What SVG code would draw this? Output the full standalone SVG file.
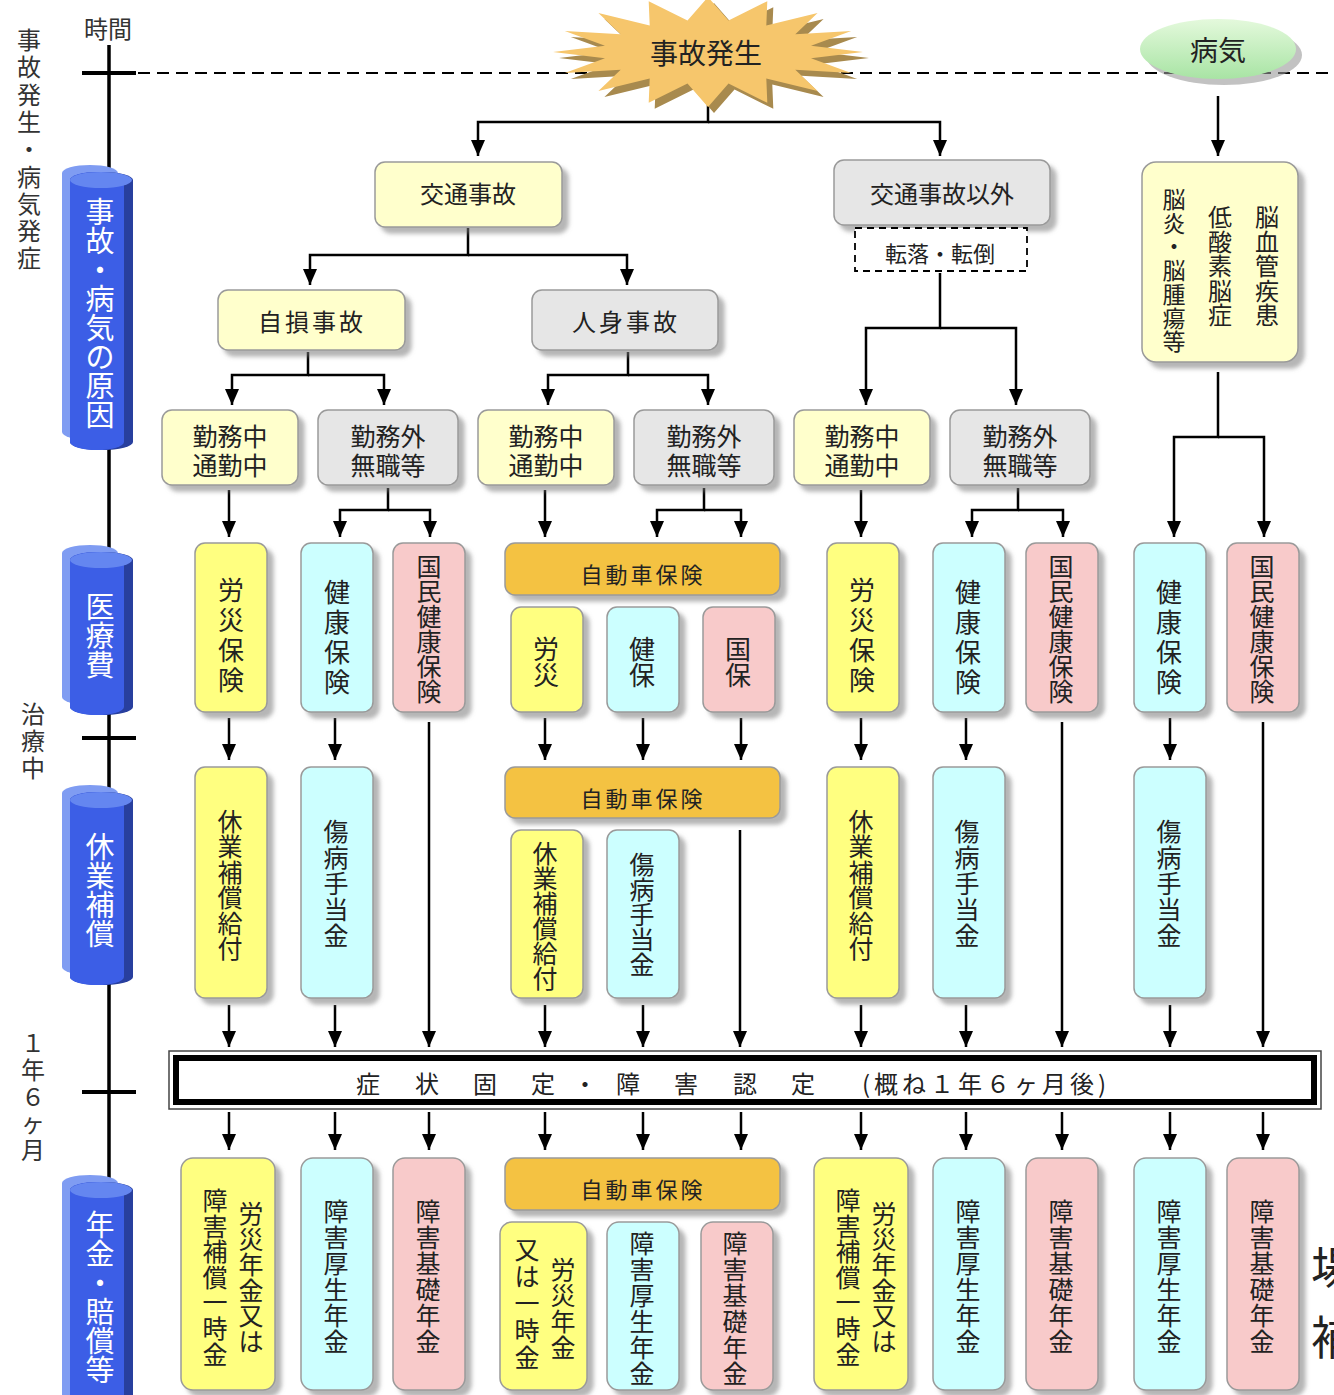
<svg xmlns="http://www.w3.org/2000/svg" width="1334" height="1395" viewBox="0 0 1334 1395">
<style>
text{font-family:"Noto Sans CJK JP","Noto Sans CJK SC",sans-serif;fill:#222}
.c{text-anchor:middle;dominant-baseline:central}
.t22{font-size:22px}.t23{font-size:23px}.t24{font-size:24px}.t25{font-size:25px}.t26{font-size:26px}.t28{font-size:28px}.t29{font-size:29px}
.w{fill:#fff}
.g3{fill:#333}
.n{stroke:#9a9a9a;stroke-width:1.5;filter:url(#sh)}
.ly{fill:#ffffcc}.gy{fill:#e6e6e6}.ye{fill:#ffff80}.cy{fill:#ccffff}.pk{fill:#f8caca}.or{fill:#f4c242}
.con{fill:none;stroke:#000;stroke-width:2.5}
.arr{marker-end:url(#ah)}
.tl{stroke:#000;stroke-width:3.5;fill:none}
.cb{fill:#7f9cf2}.cd{fill:#283f9e}.cf{fill:#3c5ee6}.ct{fill:#6486f0}
</style>
<defs>
<filter id="sh" x="-20%" y="-20%" width="160%" height="160%"><feDropShadow dx="6" dy="6" stdDeviation="2" flood-color="#7a7a7a" flood-opacity="0.55"/></filter>
<marker id="ah" viewBox="0 0 16 14" refX="16" refY="7" markerWidth="16" markerHeight="14" orient="auto" markerUnits="userSpaceOnUse"><path d="M0,0 L16,7 L0,14 z" fill="#000"/></marker>
<linearGradient id="gr" x1="0" y1="0" x2="0" y2="1"><stop offset="0" stop-color="#e4f9dc"/><stop offset="1" stop-color="#a8e4a4"/></linearGradient>
</defs>
<rect width="1334" height="1395" fill="#fff"/>

<g id="timeline">
<line x1="109" y1="45" x2="109" y2="1395" class="tl"/>
<line x1="82" y1="73" x2="136" y2="73" stroke="#000" stroke-width="4"/>
<line x1="82" y1="738" x2="136" y2="738" stroke="#000" stroke-width="4"/>
<line x1="82" y1="1092" x2="136" y2="1092" stroke="#000" stroke-width="4"/>
<line x1="138" y1="73" x2="1334" y2="73" stroke="#000" stroke-width="2" stroke-dasharray="12,7"/>
<text x="108" y="27" class="c t24 g3">時間</text>
<text class="c t24 g3"><tspan x="29" y="38">事</tspan><tspan x="29" dy="27.3">故</tspan><tspan x="29" dy="27.3">発</tspan><tspan x="29" dy="27.3">生</tspan><tspan x="29" dy="27.3">・</tspan><tspan x="29" dy="27.3">病</tspan><tspan x="29" dy="27.3">気</tspan><tspan x="29" dy="27.3">発</tspan><tspan x="29" dy="27.3">症</tspan></text>
<text class="c t24 g3"><tspan x="33" y="712">治</tspan><tspan x="33" dy="27">療</tspan><tspan x="33" dy="27">中</tspan></text>
<text class="c t24 g3"><tspan x="33" y="1041">１</tspan><tspan x="33" dy="27">年</tspan><tspan x="33" dy="27">６</tspan><tspan x="33" dy="26">ヶ</tspan><tspan x="33" dy="27">月</tspan></text>
</g>

<g id="cyl-cause">
<rect class="cb" x="62" y="165" width="56" height="275" rx="28" ry="8"/>
<rect class="cd" x="70" y="172" width="63" height="278" rx="31" ry="8"/>
<rect class="cf" x="70" y="172" width="54" height="278" rx="27" ry="8"/>
<ellipse class="ct" cx="101" cy="180" rx="31" ry="8"/>
<text class="c t29 w"><tspan x="100" y="210">事</tspan><tspan x="100" dy="29">故</tspan><tspan x="100" dy="29">・</tspan><tspan x="100" dy="29">病</tspan><tspan x="100" dy="29">気</tspan><tspan x="100" dy="29">の</tspan><tspan x="100" dy="29">原</tspan><tspan x="100" dy="29">因</tspan></text>
</g>
<g id="cyl-medical">
<rect class="cb" x="62" y="545" width="56" height="160" rx="28" ry="8"/>
<rect class="cd" x="70" y="552" width="63" height="163" rx="31" ry="8"/>
<rect class="cf" x="70" y="552" width="54" height="163" rx="27" ry="8"/>
<ellipse class="ct" cx="101" cy="560" rx="31" ry="8"/>
<text class="c t29 w"><tspan x="100" y="605">医</tspan><tspan x="100" dy="29">療</tspan><tspan x="100" dy="29">費</tspan></text>
</g>
<g id="cyl-leave">
<rect class="cb" x="62" y="785" width="56" height="190" rx="28" ry="8"/>
<rect class="cd" x="70" y="792" width="63" height="193" rx="31" ry="8"/>
<rect class="cf" x="70" y="792" width="54" height="193" rx="27" ry="8"/>
<ellipse class="ct" cx="101" cy="800" rx="31" ry="8"/>
<text class="c t29 w"><tspan x="100" y="845">休</tspan><tspan x="100" dy="29">業</tspan><tspan x="100" dy="29">補</tspan><tspan x="100" dy="29">償</tspan></text>
</g>
<g id="cyl-pension">
<rect class="cb" x="62" y="1175" width="56" height="240" rx="28" ry="8"/>
<rect class="cd" x="70" y="1182" width="63" height="240" rx="31" ry="8"/>
<rect class="cf" x="70" y="1182" width="54" height="240" rx="27" ry="8"/>
<ellipse class="ct" cx="101" cy="1190" rx="31" ry="8"/>
<text class="c t29 w"><tspan x="100" y="1223">年</tspan><tspan x="100" dy="29">金</tspan><tspan x="100" dy="29">・</tspan><tspan x="100" dy="29">賠</tspan><tspan x="100" dy="29">償</tspan><tspan x="100" dy="29">等</tspan></text>
</g>

<g id="connectors">
<path class="con arr" d="M708,103 V122 H478 V156"/>
<path class="con arr" d="M708,122 H940 V156"/>
<path class="con arr" d="M1218,96 V156"/>
<path class="con arr" d="M468,228 V255 H310 V285"/>
<path class="con arr" d="M468,255 H627 V285"/>
<path class="con arr" d="M940,273 V328 H866 V405"/>
<path class="con arr" d="M940,328 H1016 V405"/>
<path class="con arr" d="M308,352 V375 H232 V405"/>
<path class="con arr" d="M308,375 H384 V405"/>
<path class="con arr" d="M628,352 V375 H548 V405"/>
<path class="con arr" d="M628,375 H708 V405"/>
<path class="con arr" d="M1218,372 V437 H1174 V537"/>
<path class="con arr" d="M1218,437 H1264 V537"/>
<path class="con arr" d="M229,490 V537"/>
<path class="con arr" d="M388,488 V510 H340 V537"/>
<path class="con arr" d="M388,510 H430 V537"/>
<path class="con arr" d="M545,490 V537"/>
<path class="con arr" d="M704,488 V510 H657 V537"/>
<path class="con arr" d="M704,510 H741 V537"/>
<path class="con arr" d="M861,490 V537"/>
<path class="con arr" d="M1018,488 V510 H972 V537"/>
<path class="con arr" d="M1018,510 H1063 V537"/>
<path class="con arr" d="M229,718 V760"/>
<path class="con arr" d="M335,718 V760"/>
<path class="con arr" d="M545,718 V760"/>
<path class="con arr" d="M643,718 V760"/>
<path class="con arr" d="M741,718 V760"/>
<path class="con arr" d="M861,718 V760"/>
<path class="con arr" d="M966,718 V760"/>
<path class="con arr" d="M1170,718 V760"/>
<path class="con arr" d="M429,722 V1047"/>
<path class="con arr" d="M1062,722 V1047"/>
<path class="con arr" d="M1263,722 V1047"/>
<path class="con arr" d="M740,830 V1047"/>
<path class="con arr" d="M229,1005 V1047"/>
<path class="con arr" d="M335,1005 V1047"/>
<path class="con arr" d="M545,1005 V1047"/>
<path class="con arr" d="M643,1005 V1047"/>
<path class="con arr" d="M861,1005 V1047"/>
<path class="con arr" d="M966,1005 V1047"/>
<path class="con arr" d="M1170,1005 V1047"/>
<path class="con arr" d="M229,1112 V1150"/>
<path class="con arr" d="M335,1112 V1150"/>
<path class="con arr" d="M429,1112 V1150"/>
<path class="con arr" d="M545,1112 V1150"/>
<path class="con arr" d="M643,1112 V1150"/>
<path class="con arr" d="M741,1112 V1150"/>
<path class="con arr" d="M861,1112 V1150"/>
<path class="con arr" d="M966,1112 V1150"/>
<path class="con arr" d="M1062,1112 V1150"/>
<path class="con arr" d="M1170,1112 V1150"/>
<path class="con arr" d="M1263,1112 V1150"/>
</g>

<g id="accident">
<polygon transform="translate(6,6)" fill="#a88a4e" points="863,52 811,58.2 851.2,73 795.3,69.8 817.6,90.9 766.3,78.6 767.3,102.8 728.5,83.4 708,107 687.5,83.4 648.7,102.8 649.7,78.6 598.4,90.9 620.7,69.8 564.8,73 605,58.2 553,52 605,45.8 564.8,31 620.7,34.2 598.4,13.1 649.7,25.4 648.7,1.2 687.5,20.6 708,-3 728.5,20.6 767.3,1.2 766.3,25.4 817.6,13.1 795.3,34.2 851.2,31 811,45.8"/>
<polygon fill="#f6c66c" points="863,52 811,58.2 851.2,73 795.3,69.8 817.6,90.9 766.3,78.6 767.3,102.8 728.5,83.4 708,107 687.5,83.4 648.7,102.8 649.7,78.6 598.4,90.9 620.7,69.8 564.8,73 605,58.2 553,52 605,45.8 564.8,31 620.7,34.2 598.4,13.1 649.7,25.4 648.7,1.2 687.5,20.6 708,-3 728.5,20.6 767.3,1.2 766.3,25.4 817.6,13.1 795.3,34.2 851.2,31 811,45.8"/>
<text x="706" y="52" class="c t28">事故発生</text>
</g>
<g id="illness">
<ellipse cx="1224" cy="55" rx="78" ry="30" fill="#9a9a9a" opacity="0.6"/>
<ellipse cx="1218" cy="49" rx="78" ry="30" fill="url(#gr)"/>
<text x="1218" y="49" class="c t28">病気</text>
</g>

<g id="traffic"><rect class="n ly" x="375" y="162" width="187" height="65" rx="10"/><text x="468" y="192" class="c t24">交通事故</text></g>
<g id="non-traffic"><rect class="n gy" x="834" y="160" width="216" height="65" rx="10"/><text x="942" y="192" class="c t24">交通事故以外</text></g>
<g id="fall"><rect x="855" y="228" width="172" height="43" fill="#fff" stroke="#000" stroke-width="1.8" stroke-dasharray="7,5"/><text x="940" y="252" class="c t22">転落・転倒</text></g>
<g id="disease"><rect class="n ly" x="1142" y="162" width="156" height="200" rx="14"/>
<text class="c t24"><tspan x="1267" y="215">脳</tspan><tspan x="1267" dy="24.5">血</tspan><tspan x="1267" dy="24.5">管</tspan><tspan x="1267" dy="24.5">疾</tspan><tspan x="1267" dy="24.5">患</tspan></text>
<text class="c t24"><tspan x="1220" y="215">低</tspan><tspan x="1220" dy="24.5">酸</tspan><tspan x="1220" dy="24.5">素</tspan><tspan x="1220" dy="24.5">脳</tspan><tspan x="1220" dy="24.5">症</tspan></text>
<text class="c t23"><tspan x="1174" y="198">脳</tspan><tspan x="1174" dy="23.7">炎</tspan><tspan x="1174" dy="23.7">・</tspan><tspan x="1174" dy="23.7">脳</tspan><tspan x="1174" dy="23.7">腫</tspan><tspan x="1174" dy="23.7">瘍</tspan><tspan x="1174" dy="23.7">等</tspan></text>
</g>

<g id="self"><rect class="n ly" x="218" y="290" width="187" height="60" rx="10"/><text x="312" y="320" class="c t24" letter-spacing="3">自損事故</text></g>
<g id="personal"><rect class="n gy" x="532" y="290" width="186" height="60" rx="10"/><text x="626" y="320" class="c t24" letter-spacing="3">人身事故</text></g>

<g id="w1"><rect class="n ly" x="162" y="410" width="136" height="75" rx="10"/><text class="c t25"><tspan x="230" y="435">勤務中</tspan><tspan x="230" y="464">通勤中</tspan></text></g>
<g id="o1"><rect class="n gy" x="318" y="410" width="140" height="75" rx="10"/><text class="c t25"><tspan x="388" y="435">勤務外</tspan><tspan x="388" y="464">無職等</tspan></text></g>
<g id="w2"><rect class="n ly" x="478" y="410" width="136" height="75" rx="10"/><text class="c t25"><tspan x="546" y="435">勤務中</tspan><tspan x="546" y="464">通勤中</tspan></text></g>
<g id="o2"><rect class="n gy" x="634" y="410" width="140" height="75" rx="10"/><text class="c t25"><tspan x="704" y="435">勤務外</tspan><tspan x="704" y="464">無職等</tspan></text></g>
<g id="w3"><rect class="n ly" x="794" y="410" width="136" height="75" rx="10"/><text class="c t25"><tspan x="862" y="435">勤務中</tspan><tspan x="862" y="464">通勤中</tspan></text></g>
<g id="o3"><rect class="n gy" x="950" y="410" width="140" height="75" rx="10"/><text class="c t25"><tspan x="1020" y="435">勤務外</tspan><tspan x="1020" y="464">無職等</tspan></text></g>

<g id="m1"><rect class="n ye" x="195" y="543" width="72" height="169" rx="10"/><text class="c t26"><tspan x="231" y="588">労</tspan><tspan x="231" dy="30">災</tspan><tspan x="231" dy="30">保</tspan><tspan x="231" dy="30">険</tspan></text></g>
<g id="m2"><rect class="n cy" x="301" y="543" width="72" height="169" rx="10"/><text class="c t26"><tspan x="337" y="590">健</tspan><tspan x="337" dy="30">康</tspan><tspan x="337" dy="30">保</tspan><tspan x="337" dy="30">険</tspan></text></g>
<g id="m3"><rect class="n pk" x="393" y="543" width="72" height="169" rx="10"/><text class="c t25"><tspan x="429" y="565">国</tspan><tspan x="429" dy="25">民</tspan><tspan x="429" dy="25">健</tspan><tspan x="429" dy="25">康</tspan><tspan x="429" dy="25">保</tspan><tspan x="429" dy="25">険</tspan></text></g>
<g id="m-car"><rect class="n or" x="505" y="543" width="275" height="52" rx="10"/><text x="643" y="573" class="c t22" letter-spacing="3">自動車保険</text></g>
<g id="m4"><rect class="n ye" x="511" y="607" width="72" height="105" rx="10"/><text class="c t26"><tspan x="546" y="647">労</tspan><tspan x="546" dy="26">災</tspan></text></g>
<g id="m5"><rect class="n cy" x="607" y="607" width="72" height="105" rx="10"/><text class="c t26"><tspan x="642" y="647">健</tspan><tspan x="642" dy="26">保</tspan></text></g>
<g id="m6"><rect class="n pk" x="703" y="607" width="72" height="105" rx="10"/><text class="c t26"><tspan x="738" y="647">国</tspan><tspan x="738" dy="26">保</tspan></text></g>
<g id="m7"><rect class="n ye" x="827" y="543" width="72" height="169" rx="10"/><text class="c t26"><tspan x="862" y="588">労</tspan><tspan x="862" dy="30">災</tspan><tspan x="862" dy="30">保</tspan><tspan x="862" dy="30">険</tspan></text></g>
<g id="m8"><rect class="n cy" x="933" y="543" width="72" height="169" rx="10"/><text class="c t26"><tspan x="968" y="590">健</tspan><tspan x="968" dy="30">康</tspan><tspan x="968" dy="30">保</tspan><tspan x="968" dy="30">険</tspan></text></g>
<g id="m9"><rect class="n pk" x="1026" y="543" width="72" height="169" rx="10"/><text class="c t25"><tspan x="1061" y="565">国</tspan><tspan x="1061" dy="25">民</tspan><tspan x="1061" dy="25">健</tspan><tspan x="1061" dy="25">康</tspan><tspan x="1061" dy="25">保</tspan><tspan x="1061" dy="25">険</tspan></text></g>
<g id="m10"><rect class="n cy" x="1134" y="543" width="72" height="169" rx="10"/><text class="c t26"><tspan x="1169" y="590">健</tspan><tspan x="1169" dy="30">康</tspan><tspan x="1169" dy="30">保</tspan><tspan x="1169" dy="30">険</tspan></text></g>
<g id="m11"><rect class="n pk" x="1227" y="543" width="72" height="169" rx="10"/><text class="c t25"><tspan x="1262" y="565">国</tspan><tspan x="1262" dy="25">民</tspan><tspan x="1262" dy="25">健</tspan><tspan x="1262" dy="25">康</tspan><tspan x="1262" dy="25">保</tspan><tspan x="1262" dy="25">険</tspan></text></g>

<g id="l1"><rect class="n ye" x="195" y="767" width="72" height="231" rx="10"/><text class="c t25"><tspan x="230" y="820">休</tspan><tspan x="230" dy="25.4">業</tspan><tspan x="230" dy="25.4">補</tspan><tspan x="230" dy="25.4">償</tspan><tspan x="230" dy="25.4">給</tspan><tspan x="230" dy="25.4">付</tspan></text></g>
<g id="l2"><rect class="n cy" x="301" y="767" width="72" height="231" rx="10"/><text class="c t25"><tspan x="336" y="830">傷</tspan><tspan x="336" dy="26">病</tspan><tspan x="336" dy="26">手</tspan><tspan x="336" dy="26">当</tspan><tspan x="336" dy="26">金</tspan></text></g>
<g id="l-car"><rect class="n or" x="505" y="767" width="275" height="51" rx="10"/><text x="643" y="797" class="c t22" letter-spacing="3">自動車保険</text></g>
<g id="l3"><rect class="n ye" x="511" y="830" width="72" height="168" rx="10"/><text class="c t25"><tspan x="545" y="852">休</tspan><tspan x="545" dy="25">業</tspan><tspan x="545" dy="25">補</tspan><tspan x="545" dy="25">償</tspan><tspan x="545" dy="25">給</tspan><tspan x="545" dy="25">付</tspan></text></g>
<g id="l4"><rect class="n cy" x="607" y="830" width="72" height="168" rx="10"/><text class="c t25"><tspan x="642" y="863">傷</tspan><tspan x="642" dy="25">病</tspan><tspan x="642" dy="25">手</tspan><tspan x="642" dy="25">当</tspan><tspan x="642" dy="25">金</tspan></text></g>
<g id="l5"><rect class="n ye" x="827" y="767" width="72" height="231" rx="10"/><text class="c t25"><tspan x="861" y="820">休</tspan><tspan x="861" dy="25.4">業</tspan><tspan x="861" dy="25.4">補</tspan><tspan x="861" dy="25.4">償</tspan><tspan x="861" dy="25.4">給</tspan><tspan x="861" dy="25.4">付</tspan></text></g>
<g id="l6"><rect class="n cy" x="933" y="767" width="72" height="231" rx="10"/><text class="c t25"><tspan x="967" y="830">傷</tspan><tspan x="967" dy="26">病</tspan><tspan x="967" dy="26">手</tspan><tspan x="967" dy="26">当</tspan><tspan x="967" dy="26">金</tspan></text></g>
<g id="l7"><rect class="n cy" x="1134" y="767" width="72" height="231" rx="10"/><text class="c t25"><tspan x="1169" y="830">傷</tspan><tspan x="1169" dy="26">病</tspan><tspan x="1169" dy="26">手</tspan><tspan x="1169" dy="26">当</tspan><tspan x="1169" dy="26">金</tspan></text></g>

<g id="bar">
<rect x="169" y="1051" width="1152" height="58" fill="#fff" stroke="#444" stroke-width="1.5"/>
<rect x="176" y="1058" width="1138" height="44" fill="#fff" stroke="#000" stroke-width="6"/>
<text y="1082" class="c t24"><tspan x="368">症</tspan><tspan x="427">状</tspan><tspan x="485">固</tspan><tspan x="543">定</tspan><tspan x="585">・</tspan><tspan x="628">障</tspan><tspan x="686">害</tspan><tspan x="745">認</tspan><tspan x="803">定</tspan></text>
<text x="862" y="1082" class="t24" dominant-baseline="central" letter-spacing="4">(概ね１年６ヶ月後)</text>
</g>

<g id="p1"><rect class="n ye" x="181" y="1158" width="94" height="232" rx="12"/>
<text class="c t25"><tspan x="251" y="1212">労</tspan><tspan x="251" dy="25.6">災</tspan><tspan x="251" dy="25.6">年</tspan><tspan x="251" dy="25.6">金</tspan><tspan x="251" dy="25.6">又</tspan><tspan x="251" dy="25.6">は</tspan></text>
<text class="c t25"><tspan x="215" y="1199">障</tspan><tspan x="215" dy="25.6">害</tspan><tspan x="215" dy="25.6">補</tspan><tspan x="215" dy="25.6">償</tspan><tspan x="215" dy="25.6">一</tspan><tspan x="215" dy="25.6">時</tspan><tspan x="215" dy="25.6">金</tspan></text></g>
<g id="p2"><rect class="n cy" x="301" y="1158" width="72" height="232" rx="12"/><text class="c t25"><tspan x="336" y="1210">障</tspan><tspan x="336" dy="26">害</tspan><tspan x="336" dy="26">厚</tspan><tspan x="336" dy="26">生</tspan><tspan x="336" dy="26">年</tspan><tspan x="336" dy="26">金</tspan></text></g>
<g id="p3"><rect class="n pk" x="393" y="1158" width="72" height="232" rx="12"/><text class="c t25"><tspan x="428" y="1210">障</tspan><tspan x="428" dy="26">害</tspan><tspan x="428" dy="26">基</tspan><tspan x="428" dy="26">礎</tspan><tspan x="428" dy="26">年</tspan><tspan x="428" dy="26">金</tspan></text></g>
<g id="p-car"><rect class="n or" x="505" y="1158" width="275" height="52" rx="10"/><text x="643" y="1188" class="c t22" letter-spacing="3">自動車保険</text></g>
<g id="p4"><rect class="n ye" x="500" y="1222" width="87" height="168" rx="12"/>
<text class="c t25"><tspan x="563" y="1268">労</tspan><tspan x="563" dy="26">災</tspan><tspan x="563" dy="26">年</tspan><tspan x="563" dy="26">金</tspan></text>
<text class="c t25"><tspan x="527" y="1248">又</tspan><tspan x="527" dy="27">は</tspan><tspan x="527" dy="27">一</tspan><tspan x="527" dy="27">時</tspan><tspan x="527" dy="27">金</tspan></text></g>
<g id="p5"><rect class="n cy" x="607" y="1222" width="72" height="168" rx="12"/><text class="c t25"><tspan x="642" y="1242">障</tspan><tspan x="642" dy="26">害</tspan><tspan x="642" dy="26">厚</tspan><tspan x="642" dy="26">生</tspan><tspan x="642" dy="26">年</tspan><tspan x="642" dy="26">金</tspan></text></g>
<g id="p6"><rect class="n pk" x="701" y="1222" width="72" height="168" rx="12"/><text class="c t25"><tspan x="735" y="1242">障</tspan><tspan x="735" dy="26">害</tspan><tspan x="735" dy="26">基</tspan><tspan x="735" dy="26">礎</tspan><tspan x="735" dy="26">年</tspan><tspan x="735" dy="26">金</tspan></text></g>
<g id="p7"><rect class="n ye" x="814" y="1158" width="94" height="232" rx="12"/>
<text class="c t25"><tspan x="884" y="1212">労</tspan><tspan x="884" dy="25.6">災</tspan><tspan x="884" dy="25.6">年</tspan><tspan x="884" dy="25.6">金</tspan><tspan x="884" dy="25.6">又</tspan><tspan x="884" dy="25.6">は</tspan></text>
<text class="c t25"><tspan x="848" y="1199">障</tspan><tspan x="848" dy="25.6">害</tspan><tspan x="848" dy="25.6">補</tspan><tspan x="848" dy="25.6">償</tspan><tspan x="848" dy="25.6">一</tspan><tspan x="848" dy="25.6">時</tspan><tspan x="848" dy="25.6">金</tspan></text></g>
<g id="p8"><rect class="n cy" x="933" y="1158" width="72" height="232" rx="12"/><text class="c t25"><tspan x="968" y="1210">障</tspan><tspan x="968" dy="26">害</tspan><tspan x="968" dy="26">厚</tspan><tspan x="968" dy="26">生</tspan><tspan x="968" dy="26">年</tspan><tspan x="968" dy="26">金</tspan></text></g>
<g id="p9"><rect class="n pk" x="1026" y="1158" width="72" height="232" rx="12"/><text class="c t25"><tspan x="1061" y="1210">障</tspan><tspan x="1061" dy="26">害</tspan><tspan x="1061" dy="26">基</tspan><tspan x="1061" dy="26">礎</tspan><tspan x="1061" dy="26">年</tspan><tspan x="1061" dy="26">金</tspan></text></g>
<g id="p10"><rect class="n cy" x="1134" y="1158" width="72" height="232" rx="12"/><text class="c t25"><tspan x="1169" y="1210">障</tspan><tspan x="1169" dy="26">害</tspan><tspan x="1169" dy="26">厚</tspan><tspan x="1169" dy="26">生</tspan><tspan x="1169" dy="26">年</tspan><tspan x="1169" dy="26">金</tspan></text></g>
<g id="p11"><rect class="n pk" x="1227" y="1158" width="72" height="232" rx="12"/><text class="c t25"><tspan x="1262" y="1210">障</tspan><tspan x="1262" dy="26">害</tspan><tspan x="1262" dy="26">基</tspan><tspan x="1262" dy="26">礎</tspan><tspan x="1262" dy="26">年</tspan><tspan x="1262" dy="26">金</tspan></text></g>

<text x="1311" y="1265" font-size="46" dominant-baseline="central" fill="#111">場</text>
<text x="1311" y="1334" font-size="46" dominant-baseline="central" fill="#111">補</text>
</svg>
